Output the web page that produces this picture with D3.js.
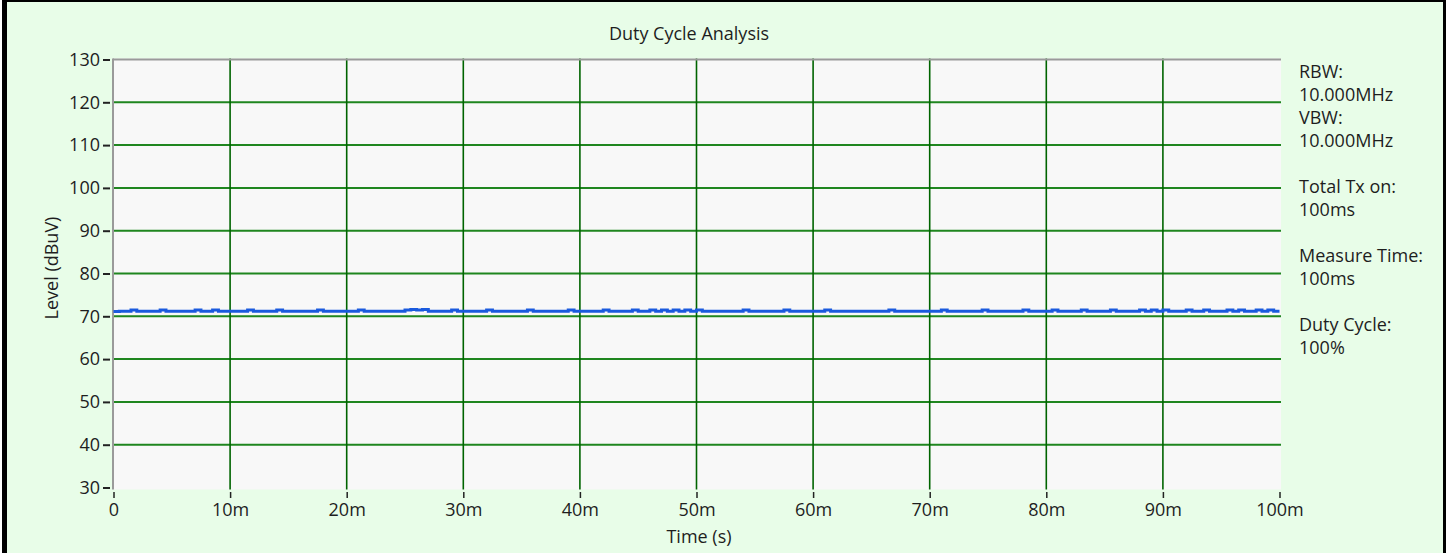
<!DOCTYPE html>
<html><head><meta charset="utf-8">
<script src="https://cdn.jsdelivr.net/npm/d3@7/dist/d3.min.js"></script>
<style>
html,body{margin:0;padding:0;background:#fff;}
svg{display:block;}
text{font-family:"Open Sans","Noto Sans",sans-serif;fill:#1e1e1e;}
</style></head><body>
<svg id="c" width="1451" height="553"></svg>
<script>
const title = "Duty Cycle Analysis";
const xTitle = "Time (s)";
const yTitle = "Level (dBuV)";
const xTicks = [0,10,20,30,40,50,60,70,80,90,100];
const xTickLabels = ["0","10m","20m","30m","40m","50m","60m","70m","80m","90m","100m"];
const yTicks = [30,40,50,60,70,80,90,100,110,120,130];
const infoLines = ["RBW:","10.000MHz","VBW:","10.000MHz","","Total Tx on:","100ms","","Measure Time:","100ms","","Duty Cycle:","100%"];
// trace sampled every 0.5 ms (time in ms), level in dBuV
const traceStep = 0.5;
const traceLevel = [
71.1,71.2,71.2,71.5,71.2,71.2,71.2,71.2,71.5,71.2,71.2,71.2,71.2,71.2,71.5,71.2,71.2,71.5,71.2,71.2,
71.2,71.2,71.2,71.5,71.2,71.2,71.2,71.2,71.5,71.2,71.2,71.2,71.2,71.2,71.2,71.5,71.2,71.2,71.2,71.2,
71.2,71.2,71.5,71.2,71.2,71.2,71.2,71.2,71.2,71.2,71.5,71.6,71.5,71.6,71.2,71.2,71.2,71.2,71.5,71.2,
71.2,71.2,71.2,71.2,71.5,71.2,71.2,71.2,71.2,71.2,71.2,71.5,71.2,71.2,71.2,71.2,71.2,71.2,71.5,71.2,
71.2,71.2,71.2,71.2,71.5,71.2,71.2,71.2,71.2,71.5,71.2,71.2,71.5,71.2,71.5,71.2,71.5,71.2,71.5,71.2,
71.5,71.2,71.2,71.2,71.2,71.2,71.2,71.2,71.5,71.2,71.2,71.2,71.2,71.2,71.2,71.5,71.2,71.2,71.2,71.2,
71.2,71.2,71.5,71.2,71.2,71.2,71.2,71.2,71.2,71.2,71.2,71.2,71.2,71.5,71.2,71.2,71.2,71.2,71.2,71.2,
71.2,71.2,71.5,71.2,71.2,71.2,71.2,71.2,71.2,71.5,71.2,71.2,71.2,71.2,71.2,71.2,71.5,71.2,71.2,71.2,
71.2,71.5,71.2,71.2,71.2,71.2,71.5,71.2,71.2,71.2,71.2,71.5,71.2,71.2,71.2,71.2,71.5,71.2,71.5,71.2,
71.5,71.2,71.2,71.2,71.5,71.2,71.2,71.5,71.2,71.2,71.2,71.5,71.2,71.5,71.2,71.2,71.5,71.2,71.5,71.2,
71.2];

const svg = d3.select("#c");
const W = 1451, H = 553;
const plot = {left:113, top:58.5, right:1281, bottom:489.5};
const x = d3.scaleLinear().domain([0,100]).range([113.5,1279.5]);
const y = d3.scaleLinear().domain([30,130]).range([487.5,59.5]);
const FS = 18;
const FF = '"Open Sans","Noto Sans",sans-serif';

// background + frame
svg.append("rect").attr("x",0).attr("y",0).attr("width",W).attr("height",H).attr("fill","#ffffff");
svg.append("rect").attr("x",2).attr("y",0).attr("width",1444).attr("height",H).attr("fill","#000");
svg.append("rect").attr("x",7).attr("y",2).attr("width",1436).attr("height",H-2).attr("fill","#e8fde8");

// plot area
svg.append("rect").attr("x",plot.left).attr("y",plot.top)
  .attr("width",plot.right-plot.left).attr("height",plot.bottom-plot.top).attr("fill","#f8f8f8");

// horizontal grid
svg.append("g").selectAll("line").data(yTicks.filter(d=>d>30&&d<130)).join("line")
  .attr("x1",plot.left).attr("x2",plot.right).attr("y1",d=>y(d)).attr("y2",d=>y(d))
  .attr("stroke","#1f861f").attr("stroke-width",2);
// vertical grid
svg.append("g").selectAll("line").data(xTicks.filter(d=>d>0&&d<100)).join("line")
  .attr("x1",d=>x(d)).attr("x2",d=>x(d)).attr("y1",plot.top).attr("y2",plot.bottom)
  .attr("stroke","#006400").attr("stroke-width",1.6);

// plot border top & left
svg.append("line").attr("x1",plot.left).attr("x2",plot.right).attr("y1",plot.top+1).attr("y2",plot.top+1)
  .attr("stroke","#9a9a9a").attr("stroke-width",2);
svg.append("line").attr("x1",plot.left).attr("x2",plot.left).attr("y1",plot.top).attr("y2",plot.bottom)
  .attr("stroke","#9a9a9a").attr("stroke-width",2);

// trace
const pts = traceLevel.map((v,i)=>({t:i*traceStep, v}));
svg.append("path").datum(pts)
  .attr("d", d3.line().x(d=>x(d.t)).y(d=>y(d.v)).curve(d3.curveStepAfter))
  .attr("fill","none").attr("stroke","#1a5ade").attr("stroke-width",3);

// y axis
const yAxis = d3.axisLeft(y).tickValues(yTicks).tickSize(7).tickPadding(3);
const gy = svg.append("g").attr("transform",`translate(${plot.left-3},0)`).call(yAxis);
gy.select(".domain").remove();
gy.selectAll(".tick line").attr("stroke","#222").attr("stroke-width",2);
gy.selectAll(".tick text").style("font-size",FS+"px").attr("fill","#1e1e1e").style("font-family",FF);

// x axis
const xAxis = d3.axisBottom(x).tickValues(xTicks).tickFormat((d,i)=>xTickLabels[i]).tickSize(6).tickPadding(5);
const gx = svg.append("g").attr("transform",`translate(0,${plot.bottom+2.5})`).call(xAxis);
gx.select(".domain").remove();
gx.selectAll(".tick line").attr("stroke","#222").attr("stroke-width",1.5);
gx.selectAll(".tick text").style("font-size",FS+"px").attr("fill","#1e1e1e").style("font-family",FF);

// titles
svg.append("text").attr("x",689).attr("y",40).attr("text-anchor","middle").style("font-size",FS+"px").text(title);
svg.append("text").attr("x",699).attr("y",543).attr("text-anchor","middle").style("font-size",FS+"px").text(xTitle);
svg.append("text").attr("transform","translate(58,268) rotate(-90)").attr("text-anchor","middle").style("font-size",FS+"px").text(yTitle);

// info panel
svg.append("g").selectAll("text").data(infoLines).join("text")
  .attr("x",1299).attr("y",(d,i)=>72+23*i).attr("dy","0.35em").style("font-size",FS+"px").text(d=>d);
</script>
</body></html>
